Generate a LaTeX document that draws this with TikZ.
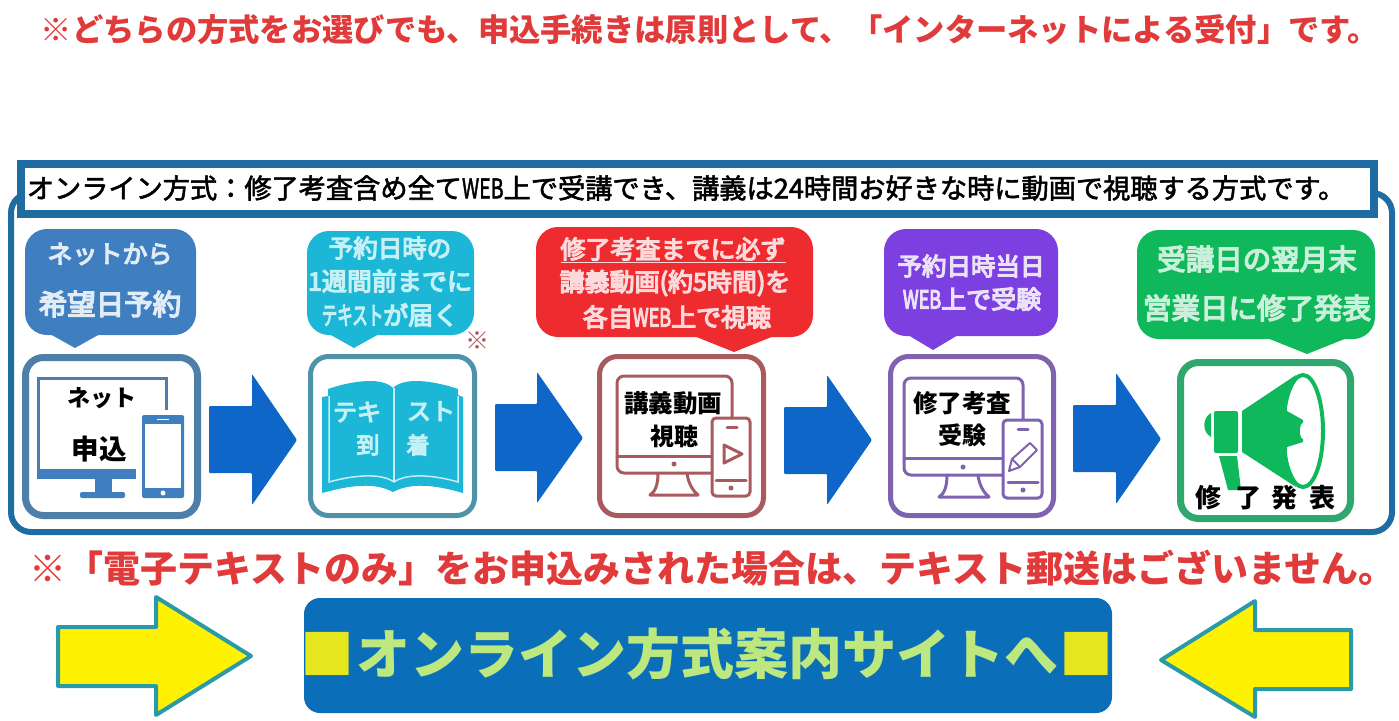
\documentclass[tikz,border=0pt]{standalone}
\usepackage{fontspec}
\setmainfont{Noto Sans CJK JP}
\newfontfamily\medfont[FakeBold=2]{Noto Sans CJK JP}
\newfontfamily\halffont[FakeBold=5]{Noto Sans CJK JP}
\usetikzlibrary{positioning}
\definecolor{framecol}{HTML}{1F6CA3}
\definecolor{headred}{HTML}{E03A3A}
\definecolor{arrowblue}{HTML}{0E66C8}
\definecolor{netblue}{HTML}{3F7FC0}
\definecolor{netedge}{HTML}{4F7FA8}
\definecolor{bookcyan}{HTML}{1CB6D6}
\definecolor{bookedge}{HTML}{4F93A8}
\definecolor{bookpale}{HTML}{C5F0F5}
\definecolor{videored}{HTML}{EE2B2F}
\definecolor{videoedge}{HTML}{A85A5F}
\definecolor{testpurple}{HTML}{7C3FE0}
\definecolor{testedge}{HTML}{7F62B0}
\definecolor{endgreen}{HTML}{0FB85A}
\definecolor{endedge}{HTML}{2FA870}
\definecolor{signyellow}{HTML}{FFF200}
\definecolor{signedge}{HTML}{2A9AA8}
\definecolor{buttonblue}{HTML}{0A6EB8}
\definecolor{buttontext}{HTML}{BCE87F}
\definecolor{buttonsquare}{HTML}{E6E61E}
\newcommand{\fs}[1]{\fontsize{#1}{#1}\selectfont}
\newcommand{\nweb}{\scalebox{0.72}[1]{WEB}}
\tikzset{
  bubble/.style={rounded corners=22pt, inner sep=0pt},
  iconbox/.style={rounded corners=18pt, fill=white},
  bluearrow/.style={fill=arrowblue, rounded corners=1pt},
  signarrow/.style={draw=signedge, fill=signyellow, line width=4pt, line join=round},
  bubbletext/.style={inner sep=0pt},
  blacktext/.style={inner sep=0pt, text=black}
}
\begin{document}
\begin{tikzpicture}[x=1pt, y=-1pt]
  \useasboundingbox (0,0) rectangle (1399,720);

  \node[inner sep=0pt, text=headred, font=\bfseries\fs{31.3}] (headline) at (710,30) {※どちらの方式をお選びでも、申込手続きは原則として、「インターネットによる受付」です。};

  % outer frame and title
  \draw[framecol, line width=6pt, rounded corners=20pt] (11,193) rectangle (1392,532);
  \draw[framecol, line width=8pt, fill=white] (21,164) rectangle (1374,214);
  \node[inner sep=0pt, text=black, font=\medfont\fs{27.2}] (titleline) at (686,188) {オンライン方式：修了考査含め全て\nweb 上で受講でき、講義は24時間お好きな時に動画で視聴する方式です。};

  % speech bubbles
  \fill[netblue, bubble] (25,229) rectangle (196,335);
  \fill[netblue] (50,334) -- (100,334) -- (75,348) -- cycle;
  \node[bubbletext, text=white!85!netblue, font=\halffont\fs{25}] (netone) at (110,254) {ネットから};
  \node[bubbletext, text=white!85!netblue, font=\halffont\fs{28.5}] (nettwo) at (110,304) {希望日予約};

  \fill[bookcyan, bubble] (307,231) rectangle (474,335);
  \fill[bookcyan] (329,334) -- (379,334) -- (354,348) -- cycle;
  \node[bubbletext, text=bookpale, font=\halffont\fs{24.5}] (bookone) at (390,248) {予約日時の};
  \node[bubbletext, text=bookpale, font=\halffont\fs{25}] (booktwo) at (390,281) {1週間前までに};
  \node[bubbletext, text=bookpale, font=\halffont\fs{25}] (bookthree) at (390,315) {\scalebox{0.62}[1]{テキスト}が届く};

  \fill[videored, bubble] (536,227) rectangle (813,337);
  \fill[videored] (694,336) -- (774,336) -- (734,352) -- cycle;
  \node[bubbletext, text=white!82!videored, font=\halffont\fs{25}] (videoone) at (673,250) {\underline{修了考査までに必ず}};
  \node[bubbletext, text=white!82!videored, font=\halffont\fs{25}] (videotwo) at (675,283) {講義動画(約5時間)を};
  \node[bubbletext, text=white!82!videored, font=\halffont\fs{25}] (videothree) at (677,317) {各自\nweb 上で視聴};

  \fill[testpurple, bubble] (884,229) rectangle (1058,336);
  \fill[testpurple] (908,335) -- (958,335) -- (933,350) -- cycle;
  \node[bubbletext, text=white!85!testpurple, font=\halffont\fs{24.5}] (testone) at (971,266) {予約日時当日};
  \node[bubbletext, text=white!85!testpurple, font=\halffont\fs{25}] (testtwo) at (972,299) {\nweb 上で受験};

  \fill[endgreen, bubble] (1137,230) rectangle (1375,339);
  \fill[endgreen] (1267,338) -- (1347,338) -- (1307,354) -- cycle;
  \node[bubbletext, text=white!78!endgreen, font=\halffont\fs{28.5}] (endone) at (1257,259) {受講日の翌月末};
  \node[bubbletext, text=white!78!endgreen, font=\halffont\fs{28.5}] (endtwo) at (1257,308) {営業日に修了発表};

  \node[inner sep=0pt, text=videoedge, font=\bfseries\fs{24}] (marknote) at (477,341) {※};

  % icon boxes
  \draw[iconbox, draw=netedge, line width=7pt] (25.5,357.5) rectangle (197.5,515.5);
  \draw[iconbox, draw=bookedge, line width=5pt] (310.5,356.5) rectangle (474.5,515.5);
  \draw[iconbox, draw=videoedge, line width=5pt] (599.5,356.5) rectangle (763.5,515.5);
  \draw[iconbox, draw=testedge, line width=5pt] (890.5,356.5) rectangle (1053.5,515.5);
  \draw[iconbox, draw=endedge, line width=7pt] (1180.5,362.5) rectangle (1350.5,518.5);

  % block arrows
  \fill[bluearrow] (209,406) -- (252,406) -- (252,374) -- (297,440) -- (252,505) -- (252,473) -- (209,473) -- cycle;
  \fill[bluearrow] (495,404) -- (537,404) -- (537,372) -- (583,438) -- (537,503) -- (537,471) -- (495,471) -- cycle;
  \fill[bluearrow] (784,407) -- (827,407) -- (827,375) -- (872,440) -- (827,505) -- (827,474) -- (784,474) -- cycle;
  \fill[bluearrow] (1073,405) -- (1116,405) -- (1116,373) -- (1161,439) -- (1116,504) -- (1116,472) -- (1073,472) -- cycle;

  % net icon
  \draw[netedge, line width=3pt] (38,469) -- (38,378) -- (166,378) -- (166,410);
  \fill[netblue] (37,469) rectangle (136,479);
  \fill[netblue] (95,479) rectangle (112,492);
  \fill[netblue, rounded corners=2pt] (80,492) rectangle (125,498);
  \fill[netblue, rounded corners=2pt] (142,415) rectangle (184,498);
  \fill[white] (145,424) rectangle (181,488);
  \fill[white] (163,493) circle (2.5);
  \draw[white, line width=1pt] (157,419.5) -- (169,419.5);
  \node[blacktext, font=\bfseries\fs{23}] (netlabel) at (102,398) {ネット};
  \node[blacktext, font=\bfseries\fs{27.5}] (netapply) at (99,449) {申込};

  % book icon
  \fill[bookcyan] (322,397) -- (328,396) -- (328,389) .. controls (345,383) and (380,375) .. (393,388) .. controls (406,375) and (441,383) .. (458,389) -- (458,395) -- (463,397) -- (463,493) .. controls (445,488) and (415,480) .. (393,492) .. controls (371,480) and (341,488) .. (322,493) -- cycle;
  \draw[bookpale, line width=1.5pt] (329,396) -- (329,482) .. controls (350,476) and (380,472) .. (394,482) .. controls (408,472) and (438,476) .. (458,482) -- (458,396);
  \draw[bookpale, line width=1.5pt] (394,388) -- (394,482);
  \node[bubbletext, text=bookpale, font=\halffont\fs{24}] (bookte) at (357,412) {テキ};
  \node[bubbletext, text=bookpale, font=\halffont\fs{24}] (booksu) at (431,411) {スト};
  \node[bubbletext, text=bookpale, font=\halffont\fs{23}] (bookto) at (368,445) {到};
  \node[bubbletext, text=bookpale, font=\halffont\fs{23}] (bookchaku) at (418,445) {着};

  % video icon
  \begin{scope}[videoedge, line width=3pt, line join=round, line cap=round]
    \draw[rounded corners=7pt] (617,456) -- (617,376) -- (732,376) -- (732,418);
    \draw[rounded corners=7pt] (617,456) -- (617,473) -- (712,473);
    \draw (617,456) -- (712,456);
    \fill (674,464) circle (2.5);
    \draw (658,473) .. controls (658,485) and (655,492) .. (650,495) -- (698,495) .. controls (692,490) and (688,482) .. (687,473);
    \draw[fill=white, rounded corners=4pt] (712,418) rectangle (750,496);
    \draw (727,427) -- (737,427);
    \draw (716,480) -- (746,480);
    \fill (731,488) circle (2.5);
    \draw (724,445) -- (724,463) -- (742,454) -- cycle;
  \end{scope}
  \node[blacktext, font=\bfseries\fs{24.5}] (videolabel) at (673,403) {講義動画};
  \node[blacktext, font=\bfseries\fs{24}] (videowatch) at (674,436) {視聴};

  % test icon
  \begin{scope}[testedge, line width=3pt, line join=round, line cap=round]
    \draw[rounded corners=7pt] (904,458) -- (904,378) -- (1023,378) -- (1023,419);
    \draw[rounded corners=7pt] (904,458) -- (904,475) -- (1002,475);
    \draw (904,458) -- (1002,458);
    \fill (963,467) circle (2.5);
    \draw (947,475) .. controls (947,487) and (944,494) .. (939,497) -- (989,497) .. controls (983,492) and (979,484) .. (978,475);
    \draw[fill=white, rounded corners=4pt] (1003,420) rectangle (1042,498);
    \draw (1018,429) -- (1028,429);
    \draw (1008,482) -- (1038,482);
    \fill (1023,490) circle (2.5);
    \draw[line width=2pt] (1009,471) -- (1012,459) -- (1030,443) -- (1037,450) -- (1020,467) -- cycle;
    \draw[line width=2pt] (1012,459) -- (1020,467);
  \end{scope}
  \node[blacktext, font=\bfseries\fs{24.5}] (testlabel) at (962,403) {修了考査};
  \node[blacktext, font=\bfseries\fs{24}] (testtake) at (962,435) {受験};

  % megaphone icon
  \fill[endgreen] (1242,411) -- (1296,375) .. controls (1290,390) and (1286,405) .. (1287,411) -- (1303,420) -- (1303,442) -- (1287,447) .. controls (1286,460) and (1290,475) .. (1296,487) -- (1242,452) -- cycle;
  \draw[endgreen, line width=4pt] (1303,431) ellipse (20 and 56);
  \fill[white] (1303,431) ellipse (3 and 8);
  \fill[endgreen, rounded corners=2pt] (1214,411) rectangle (1238,453);
  \fill[endgreen] (1211,413) .. controls (1202,418) and (1202,432) .. (1211,437) -- cycle;
  \fill[endgreen] (1219,456) -- (1237,456) -- (1241,490) -- (1228,490) -- cycle;
  \node[blacktext, font=\bfseries\fs{26}] (endlabel) at (1265,498) {修\hspace{14pt}了\hspace{10pt}発\hspace{12pt}表};

  \node[inner sep=0pt, text=headred, font=\bfseries\fs{37}] (notice) at (712.5,568) {※「電子テキストのみ」をお申込みされた場合は、テキスト郵送はございません。};

  % bottom arrows and button
  \draw[signarrow] (58,627) -- (156,627) -- (156,597) -- (251,656) -- (156,715) -- (156,686) -- (58,686) -- cycle;
  \draw[signarrow] (1351,630) -- (1255,630) -- (1255,601) -- (1161,660) -- (1255,717) -- (1255,689) -- (1351,689) -- cycle;
  \fill[buttonblue, rounded corners=16pt] (304,598) rectangle (1112,713);
  \node[inner sep=0pt, text=buttonsquare, font=\bfseries\fs{54}] (squareleft) at (327,654) {■};
  \node[inner sep=0pt, text=buttontext, font=\bfseries\fs{54}] (sitelink) at (707,654) {オンライン方式案内サイトへ};
  \node[inner sep=0pt, text=buttonsquare, font=\bfseries\fs{54}] (squareright) at (1086,654) {■};
\end{tikzpicture}
\end{document}
